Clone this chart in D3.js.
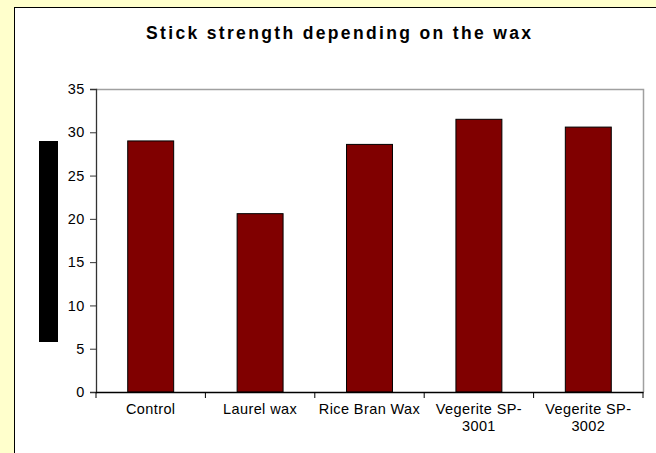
<!DOCTYPE html>
<html>
<head>
<meta charset="utf-8">
<script src="https://cdn.jsdelivr.net/npm/d3@7"></script>
<style>
  body { margin: 0; background: #ffffcc; }
  svg { display: block; font-family: "Liberation Sans", Arial, sans-serif; }
</style>
</head>
<body>
<div id="chart"></div>
<script>
const width = 656;
const height = 453;
// plot area: top, right, bottom, left
const margin = [89, 13, 61, 96];

const title = "Stick strength depending on the wax";
const categories = ["Control", "Laurel wax", "Rice Bran Wax", "Vegerite SP-3001", "Vegerite SP-3002"];
const labelLines = [["Control"], ["Laurel wax"], ["Rice Bran Wax"], ["Vegerite SP-", "3001"], ["Vegerite SP-", "3002"]];
const values = [29.0, 20.6, 28.6, 31.5, 30.6];
const yTicks = [0, 5, 10, 15, 20, 25, 30, 35];

var svg = d3.select("#chart")
  .append("svg")
  .attr("width", width)
  .attr("height", height);

// yellow page + white chart area
svg.append("rect")
  .attr("width", width).attr("height", height)
  .attr("fill", "#ffffcc");

svg.append("rect")
  .attr("x", 14.5).attr("y", 7.5)
  .attr("width", width + 10).attr("height", height + 10)
  .attr("fill", "#ffffff")
  .attr("stroke", "#000");

let xScale = d3.scaleBand()
  .domain(categories)
  .range([margin[3], width - margin[1]])
  .paddingInner(0.58)
  .paddingOuter(0.29);

let yScale = d3.scaleLinear()
  .domain([0, 35])
  .range([height - margin[2], margin[0]]);

const x0 = margin[3], x1 = width - margin[1];
const y0 = height - margin[2], y1 = margin[0];

// plot frame (top and right in grey)
svg.append("path")
  .attr("d", `M${x0},${y1 + 0.5}H${x1 + 0.5}V${y0}`)
  .attr("fill", "none")
  .attr("stroke", "#a0a0a0")
  .attr("stroke-width", 1.5);

// black block where the axis title was
svg.append("rect")
  .attr("x", 39).attr("y", 141)
  .attr("width", 19).attr("height", 201)
  .attr("fill", "#000");

// bars
svg.append("g")
  .selectAll(".bar")
  .data(values)
  .enter()
  .append("rect")
  .attr("class", "bar")
  .attr("x", (d, i) => xScale(categories[i]))
  .attr("y", (d) => yScale(d))
  .attr("width", xScale.bandwidth())
  .attr("height", (d) => yScale(0) - yScale(d))
  .attr("fill", "#800000")
  .attr("stroke", "#000")
  .attr("stroke-width", 1);

// y axis
let yAxis = d3.axisLeft(yScale).tickValues(yTicks).tickSize(6).tickPadding(5);
let ya = svg.append("g")
  .attr("transform", `translate(${x0},0)`)
  .call(yAxis);
ya.select(".domain").attr("stroke", "#333").attr("stroke-width", 1.3);
ya.selectAll(".tick line").attr("stroke", "#333");
ya.selectAll(".tick text")
  .attr("font-size", 14.5)
  .attr("letter-spacing", 0.6)
  .attr("fill", "#000")
  .attr("font-family", "Liberation Sans, Arial, sans-serif");

// x axis with ticks at band edges
let edges = categories.map((c) => xScale(c) - xScale.step() * xScale.paddingInner() / 2);
edges[0] = x0;
edges.push(x1);
let xa = svg.append("g");
xa.append("line")
  .attr("x1", x0).attr("x2", x1 + 0.5)
  .attr("y1", y0 + 0.5).attr("y2", y0 + 0.5)
  .attr("stroke", "#000").attr("stroke-width", 1.3);
xa.selectAll(".xtick")
  .data(edges)
  .enter()
  .append("line")
  .attr("class", "xtick")
  .attr("x1", (d) => d).attr("x2", (d) => d)
  .attr("y1", y0).attr("y2", y0 + 6)
  .attr("stroke", "#000");

let labels = xa.selectAll(".xlabel")
  .data(labelLines)
  .enter()
  .append("text")
  .attr("class", "xlabel")
  .attr("text-anchor", "middle")
  .attr("font-size", 14.5)
  .attr("letter-spacing", 0.4)
  .attr("fill", "#000")
  .attr("transform", (d, i) => `translate(${xScale(categories[i]) + xScale.bandwidth() / 2},${y0 + 22})`);

labels.selectAll("tspan")
  .data((d) => d)
  .enter()
  .append("tspan")
  .attr("x", 0)
  .attr("dy", (d, i) => (i === 0 ? 0 : 17))
  .text((d) => d);

// title
svg.append("text")
  .attr("x", 338.5)
  .attr("y", 39)
  .attr("text-anchor", "middle")
  .attr("font-size", 17.5)
  .attr("font-weight", "bold")
  .attr("fill", "#000")
  .attr("textLength", 385)
  .attr("lengthAdjust", "spacing")
  .text(title);
</script>
</body>
</html>
